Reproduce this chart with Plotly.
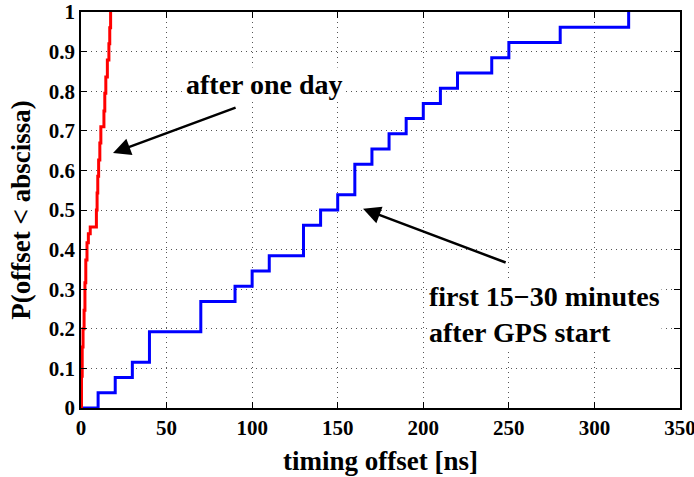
import plotly.graph_objects as go

# Blue CDF: first 15-30 minutes after GPS start (jump positions in ns, CDF level after jump)
blue_x = [0, 10, 20, 30, 40, 70, 90, 100, 110, 130, 140, 150, 160, 170, 180, 190, 200, 210, 220, 240, 250, 280, 320]
blue_y = [0, 0.0385, 0.0769, 0.1154, 0.1923, 0.2692, 0.3077, 0.3462, 0.3846, 0.4615, 0.5, 0.5385, 0.6154,
          0.6538, 0.6923, 0.7308, 0.7692, 0.8077, 0.8462, 0.8846, 0.9231, 0.9615, 1.0]

# Red CDF: after one day
red_x = [0, 0.3, 0.7, 1.2, 1.8, 2.3, 2.8, 3.5, 4.3, 5.4, 9.0, 9.4, 9.8, 10.3, 11.0, 11.6, 13.4, 13.9, 14.5, 15.4, 16.3, 16.8, 17.3]
red_y = [0, 0.08, 0.154, 0.2, 0.247, 0.316, 0.374, 0.417, 0.44, 0.457, 0.5, 0.543, 0.585, 0.626, 0.669, 0.71,
         0.75, 0.795, 0.836, 0.879, 0.92, 0.96, 1.0]

x_ticks = [0, 50, 100, 150, 200, 250, 300, 350]
x_tick_labels = ["<b>%d</b>" % v for v in x_ticks]
y_ticks = [0, 0.1, 0.2, 0.3, 0.4, 0.5, 0.6, 0.7, 0.8, 0.9, 1]
y_tick_labels = ["<b>%s</b>" % s for s in ["0", "0.1", "0.2", "0.3", "0.4", "0.5", "0.6", "0.7", "0.8", "0.9", "1"]]

FONT = "Liberation Serif"

fig = go.Figure()
fig.add_trace(go.Scatter(x=blue_x, y=blue_y, mode="lines", line=dict(color="#0000ff", width=3, shape="hv"),
                         showlegend=False, hoverinfo="skip"))
fig.add_trace(go.Scatter(x=red_x, y=red_y, mode="lines", line=dict(color="#ff0000", width=3, shape="hv"),
                         showlegend=False, hoverinfo="skip"))

axis_common = dict(
    showline=True, linecolor="black", linewidth=1.5, mirror="allticks",
    ticks="inside", ticklen=6, tickcolor="black", tickwidth=1,
    showgrid=True, gridcolor="#555", griddash="1px,4px", gridwidth=1,
    zeroline=False, automargin=False, ticklabeloverflow="allow",
    tickfont=dict(family=FONT, size=21, color="black"),
)

fig.update_xaxes(range=[0, 350], tickvals=x_ticks, ticktext=x_tick_labels, **axis_common,
                 title=dict(text="<b>timing offset [ns]</b>", font=dict(family=FONT, size=27, color="black"),
                            standoff=12))
fig.update_yaxes(range=[0, 1], tickvals=y_ticks, ticktext=y_tick_labels, **axis_common,
                 title=dict(text="<b>P(offset < abscissa)</b>", font=dict(family=FONT, size=27, color="black"),
                            standoff=10))

# Arrows
fig.add_annotation(x=18.7, y=0.644, ax=91.2, ay=0.76, axref="x", ayref="y", xref="x", yref="y",
                   showarrow=True, arrowhead=2, arrowsize=1.4, arrowwidth=2.5, arrowcolor="black", text="")
fig.add_annotation(x=164.8, y=0.503, ax=249, ay=0.366, axref="x", ayref="y", xref="x", yref="y",
                   showarrow=True, arrowhead=2, arrowsize=1.4, arrowwidth=2.5, arrowcolor="black", text="")

# Text labels
fig.add_annotation(x=107.5, y=0.818, xref="x", yref="y", text="<b>after one day</b>", showarrow=False,
                   font=dict(family=FONT, size=28, color="black"), bgcolor="white",
                   xanchor="center", yanchor="middle")
fig.add_annotation(x=202, y=0.235, xref="x", yref="y", text="<b>first 15\u221230 minutes<br>after GPS start</b>",
                   showarrow=False, align="left",
                   font=dict(family=FONT, size=28, color="black"), bgcolor="white",
                   xanchor="left", yanchor="middle")

fig.update_layout(
    width=694, height=477,
    margin=dict(l=81, r=14, t=12, b=69),
    plot_bgcolor="white", paper_bgcolor="white",
)

fig.write_html("out.html", config={"displayModeBar": False},
               post_script="document.body.style.margin='0';")
